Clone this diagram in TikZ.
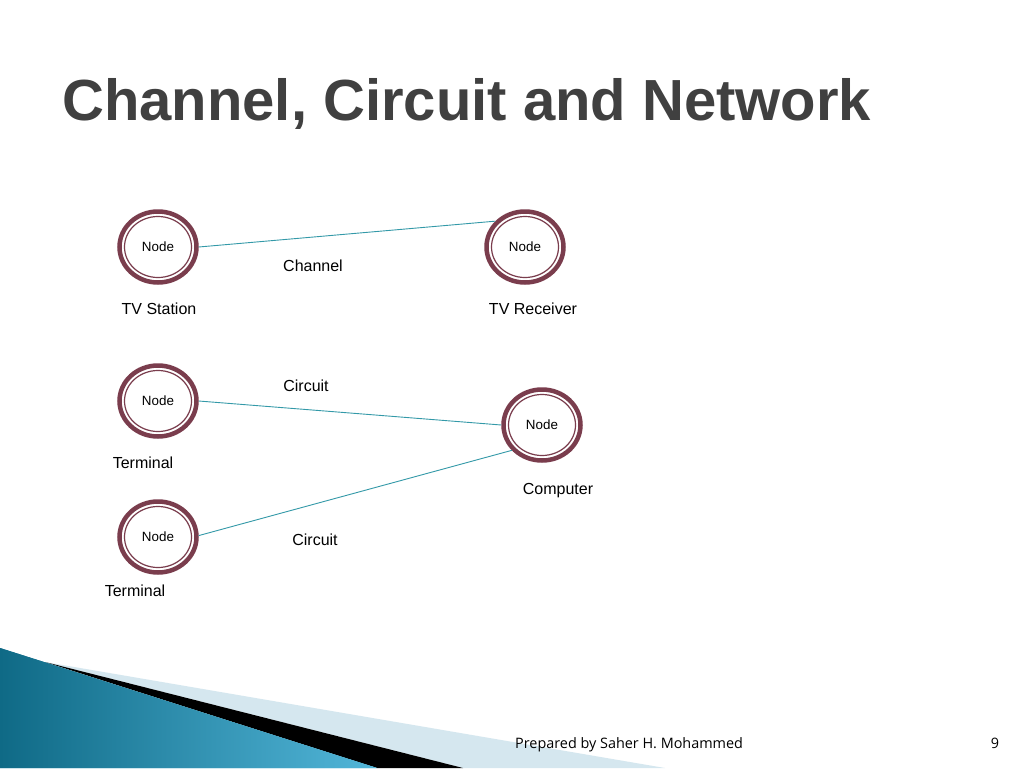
\documentclass[tikz,border=0pt]{standalone}
\usepackage{fontspec}
\setmainfont{Liberation Sans}
\newfontfamily\footfont{Open Sans}
\usetikzlibrary{shapes.geometric}
\definecolor{ring}{HTML}{7A3D4D}
\definecolor{wire}{HTML}{3399A8}
\definecolor{titlegray}{HTML}{404040}
\definecolor{paleblue}{HTML}{D5E7EF}
\definecolor{deepteal}{HTML}{0F6A86}
\definecolor{midteal}{HTML}{52B6D9}
\definecolor{endteal}{HTML}{4AAFD4}
\begin{document}
\begin{tikzpicture}[x=1pt,y=-1pt,
  netnode/.style={ellipse, draw=ring, line width=4.5pt, minimum width=77pt, minimum height=71pt, inner sep=0pt, font=\fontsize{13.4}{13.4}\selectfont},
  innerring/.style={draw=ring, line width=1.2pt},
  lbl/.style={font=\fontsize{16}{16}\selectfont, inner sep=0pt, anchor=base},
  wirel/.style={draw=wire, line width=0.9pt}]
\useasboundingbox[fill=white] (0,0) rectangle (1024,768);

% bottom-left decoration
\fill[paleblue] (45,662) -- (665,768) -- (463,768) -- cycle;
\fill[black] (45,662) -- (463,768) -- (377,768) -- cycle;
\shade[left color=deepteal, middle color=midteal, right color=endteal, shading angle=0] (0,648) -- (377,768) -- (0,768) -- cycle;
\shade[left color=deepteal, right color=midteal] (0,648) -- (377,768) -- (0,768) -- cycle;

% title
\node[anchor=base west, inner sep=0pt, text=titlegray, font=\fontsize{58}{58}\selectfont\bfseries] (title) at (62,120) {Channel, Circuit and Network};

% nodes
\node[netnode] (n1) at (158,247) {Node};
\node[netnode] (n2) at (525,247) {Node};
\node[netnode] (n3) at (158,401) {Node};
\node[netnode] (n4) at (542,425) {Node};
\node[netnode] (n5) at (158,537) {Node};
\foreach \n in {n1,n2,n3,n4,n5}
  \draw[innerring] (\n.center) ellipse [x radius=33.5, y radius=30.5];

% connectors
\draw[wirel] (n1.0) -- (n2.139);
\draw[wirel] (n3.0) -- (n4.180);
\draw[wirel] (n5.2) -- (n4.220);

% labels
\node[lbl] (channel) at (313,271) {Channel};
\node[lbl] (tvs) at (159,314) {TV Station};
\node[lbl] (tvr) at (533,314) {TV Receiver};
\node[lbl] (circ1) at (306,391) {Circuit};
\node[lbl] (term1) at (143,468) {Terminal};
\node[lbl] (comp) at (558,494) {Computer};
\node[lbl] (circ2) at (315,545) {Circuit};
\node[lbl] (term2) at (135,596) {Terminal};

% footer
\node[anchor=base west, inner sep=0pt, font=\footfont\fontsize{14.4}{14.4}\selectfont] (foot) at (515,748) {Prepared by Saher H. Mohammed};
\node[anchor=base, inner sep=0pt, font=\footfont\fontsize{14.4}{14.4}\selectfont] (page) at (995,748) {9};
\end{tikzpicture}
\end{document}
